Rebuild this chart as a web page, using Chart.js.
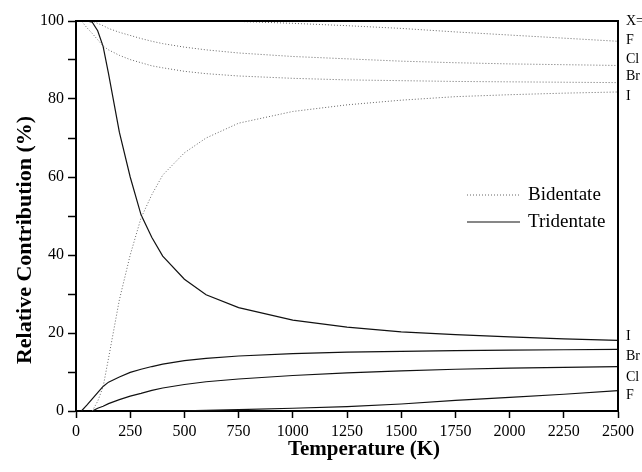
<!DOCTYPE html>
<html>
<head>
<meta charset="utf-8">
<script src="https://cdn.jsdelivr.net/npm/chart.js@4"></script>
<style>
  html, body { margin: 0; padding: 0; background: #fff; }
  canvas { display: block; }
</style>
</head>
<body>
<canvas id="chart" width="642" height="472"></canvas>
<script>
// temperature grid (K)
const temps = [0, 25, 50, 75, 100, 125, 150, 200, 250, 300, 350, 400, 500, 600, 750, 1000, 1250, 1500, 1750, 2000, 2250, 2500];

// bidentate contribution (%)
const bidF = [100, 100, 100, 100, 100, 100, 100, 100, 100, 100, 100, 100, 100, 100, 99.9, 99.4, 98.8, 98.1, 97.2, 96.4, 95.6, 94.8];
const bidCl = [100, 100, 100, 100, 99.4, 98.8, 98.1, 97.1, 96.3, 95.5, 94.8, 94.2, 93.3, 92.6, 91.8, 90.9, 90.3, 89.7, 89.3, 89.0, 88.8, 88.6];
const bidBr = [100, 100, 98.3, 96.8, 95.2, 93.6, 92.6, 91.2, 90.1, 89.3, 88.5, 88.0, 87.1, 86.5, 85.9, 85.3, 84.9, 84.7, 84.5, 84.4, 84.3, 84.2];
const bidI = [null, null, null, 0, 2.5, 6.2, 13.5, 28.5, 40, 49.5, 55.5, 60.5, 66.2, 70, 73.8, 76.8, 78.5, 79.7, 80.6, 81.1, 81.5, 81.8];

// tridentate contribution (%)
const triF = [null, null, null, null, null, null, null, null, 0, 0, 0, 0, 0.05, 0.15, 0.35, 0.7, 1.1, 1.8, 2.7, 3.5, 4.3, 5.2];
const triCl = [null, null, null, 0, 0.7, 1.2, 1.9, 2.9, 3.8, 4.5, 5.3, 5.9, 6.8, 7.5, 8.2, 9.1, 9.8, 10.3, 10.7, 11.0, 11.2, 11.4];
const triBr = [null, 0, 1.5, 3.1, 4.7, 6.3, 7.4, 8.7, 9.9, 10.7, 11.4, 12.0, 12.9, 13.5, 14.1, 14.7, 15.1, 15.3, 15.5, 15.6, 15.7, 15.8];
const triI = [100, 100, 100, 99.7, 97.5, 93.5, 86.5, 71.5, 60, 50.3, 44.5, 39.7, 33.8, 29.8, 26.5, 23.3, 21.5, 20.3, 19.6, 19.0, 18.5, 18.1];

// halide labels on the right edge, and the value they sit at
const edgeLabels = ["X=", "F", "Cl", "Br", "I", "I", "Br", "Cl", "F"];
const edgeLabelValues = [100, 95.1, 90.3, 85.9, 80.8, 19.1, 13.9, 8.7, 4.1];

const legendNames = ["Bidentate", "Tridentate"];

const SERIF = "'Liberation Serif', 'Times New Roman', serif";

function pts(vals) {
  return temps.map((t, i) => ({ x: t, y: vals[i] }));
}

function bidSet(label, vals) {
  return {
    label, data: pts(vals), borderColor: "#666", borderWidth: 1,
    borderDash: [1, 2], pointRadius: 0, tension: 0, spanGaps: false,
  };
}

function triSet(label, vals) {
  return {
    label, data: pts(vals), borderColor: "#111", borderWidth: 1.2,
    pointRadius: 0, tension: 0, spanGaps: false,
  };
}

const decorations = {
  id: "decorations",
  afterDraw(chart) {
    const { ctx, chartArea: a, scales } = chart;
    ctx.save();

    // top and right frame
    ctx.strokeStyle = "#000";
    ctx.lineWidth = 2;
    ctx.beginPath();
    ctx.moveTo(a.left, a.top);
    ctx.lineTo(a.right, a.top);
    ctx.lineTo(a.right, a.bottom);
    ctx.stroke();

    // halide labels
    ctx.fillStyle = "#000";
    ctx.font = "14px " + SERIF;
    ctx.textAlign = "left";
    ctx.textBaseline = "middle";
    edgeLabels.forEach((txt, i) => {
      ctx.fillText(txt, a.right + 8, scales.y.getPixelForValue(edgeLabelValues[i]));
    });

    // legend
    const rows = [195, 222];
    ctx.font = "19px " + SERIF;
    legendNames.forEach((name, i) => {
      ctx.beginPath();
      ctx.lineWidth = i === 0 ? 1 : 1.2;
      ctx.strokeStyle = i === 0 ? "#666" : "#111";
      ctx.setLineDash(i === 0 ? [1, 2] : []);
      ctx.moveTo(467, rows[i]);
      ctx.lineTo(520, rows[i]);
      ctx.stroke();
      ctx.setLineDash([]);
      ctx.fillText(name, 528, rows[i]);
    });

    // axis titles
    ctx.font = "bold 21px " + SERIF;
    ctx.textAlign = "center";
    ctx.fillText("Temperature (K)", 364, 450);
    ctx.font = "bold 22px " + SERIF;
    ctx.translate(25, 240);
    ctx.rotate(-Math.PI / 2);
    ctx.fillText("Relative Contribution (%)", 0, 0);

    ctx.restore();
  },
};

new Chart(document.getElementById("chart"), {
  type: "line",
  data: {
    datasets: [
      bidSet("Bidentate F", bidF),
      bidSet("Bidentate Cl", bidCl),
      bidSet("Bidentate Br", bidBr),
      bidSet("Bidentate I", bidI),
      triSet("Tridentate F", triF),
      triSet("Tridentate Cl", triCl),
      triSet("Tridentate Br", triBr),
      triSet("Tridentate I", triI),
    ],
  },
  options: {
    responsive: false,
    animation: false,
    layout: { padding: { top: 21, right: 24, left: 0, bottom: 0 } },
    plugins: { legend: { display: false }, tooltip: { enabled: false } },
    scales: {
      x: {
        type: "linear",
        min: 0,
        max: 2500,
        afterFit: (s) => { s.height = 61; },
        border: { color: "#000", width: 2 },
        grid: { drawOnChartArea: false, tickLength: 7, color: "#000", tickWidth: 1.5 },
        ticks: {
          stepSize: 250, autoSkip: false, maxRotation: 0, color: "#000",
          padding: 4, font: { family: SERIF, size: 16 },
          callback: (v) => String(v),
        },
      },
      y: {
        min: 0,
        max: 100,
        afterFit: (s) => { s.width = 76; },
        border: { color: "#000", width: 2 },
        grid: { drawOnChartArea: false, tickLength: 8, color: "#000", tickWidth: 1.5 },
        ticks: {
          stepSize: 10, autoSkip: false, color: "#000", padding: 4,
          font: { family: SERIF, size: 16 },
          callback: (v) => (v % 20 === 0 ? v : ""),
        },
      },
    },
  },
  plugins: [decorations],
});
</script>
</body>
</html>
